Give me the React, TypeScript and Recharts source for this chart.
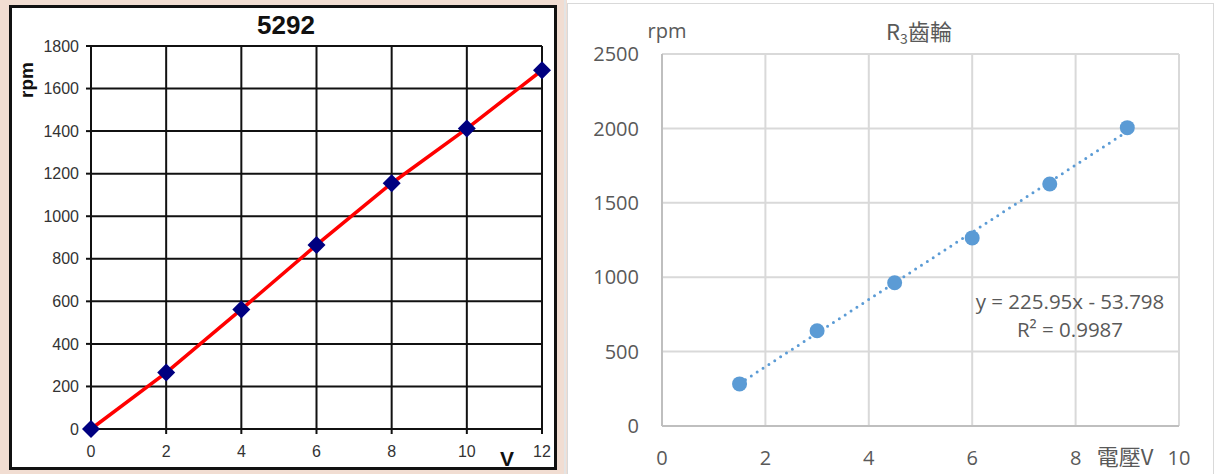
import { ComposedChart, Line, Scatter, XAxis, YAxis, CartesianGrid, ReferenceLine } from "recharts";

// left chart: motor 5292
const voltsA = [0, 2, 4, 6, 8, 10, 12];
const rpmA = [0, 265, 562, 865, 1155, 1412, 1686];
const xTicksA = [0, 2, 4, 6, 8, 10, 12];
const yTicksA = [0, 200, 400, 600, 800, 1000, 1200, 1400, 1600, 1800];

// right chart: R3 gear
const voltsB = [1.5, 3, 4.5, 6, 7.5, 9];
const rpmB = [283, 640, 963, 1264, 1626, 2005];
const xTicksB = [0, 2, 4, 6, 8, 10];
const yTicksB = [0, 500, 1000, 1500, 2000, 2500];
const trendSlope = 225.95;
const trendIntercept = -53.798;

const dataA = voltsA.map((v, i) => ({ v, rpm: rpmA[i] }));
const dataB = voltsB.map((v, i) => ({ v, rpm: rpmB[i] }));

const trendStart = voltsB[0];
const trendEnd = voltsB[voltsB.length - 1];

const Diamond = (props: any) => {
    const { cx, cy } = props;
    if (cx == null || cy == null) return null;
    const r = 9;
    return <path d={`M${cx},${cy - r}L${cx + r},${cy}L${cx},${cy + r}L${cx - r},${cy}Z`} fill="#000080" />;
};

const Dot = (props: any) => {
    const { cx, cy } = props;
    if (cx == null || cy == null) return null;
    return <circle cx={cx} cy={cy} r={7.5} fill="#5b9bd5" />;
};

const armFont = "Arial, 'Liberation Sans', sans-serif";
const xlFont = "'Open Sans', 'Noto Sans', sans-serif";
const gray = "#595959";

const LeftChart = () => (
    <div style={{ position: "absolute", left: 0, top: 0, width: 567, height: 474, background: "#f1ddd2" }}>
        <div style={{ position: "absolute", left: 9, top: 5, width: 542, height: 459, border: "3px solid #111", background: "#fff" }} />
        <div style={{ position: "absolute", left: 564, top: 0, width: 2, height: 474, background: "#e4e4e4" }} />
        <ComposedChart
            width={567}
            height={474}
            data={dataA}
            margin={{ top: 46, right: 25, bottom: 15, left: 11 }}
            style={{ position: "absolute", left: 0, top: 0 }}
        >
            <CartesianGrid stroke="#111" strokeWidth={2} horizontalValues={yTicksA} verticalValues={xTicksA} />
            <XAxis
                type="number"
                dataKey="v"
                domain={[0, 12]}
                ticks={xTicksA}
                height={30}
                tickSize={5}
                tickMargin={12}
                stroke="#111"
                strokeWidth={2}
                tick={{ fill: "#333", fontSize: 16, fontFamily: armFont }}
            />
            <YAxis
                type="number"
                domain={[0, 1800]}
                ticks={yTicksA}
                width={80}
                tickSize={5}
                tickMargin={7}
                stroke="#111"
                strokeWidth={2}
                tick={{ fill: "#333", fontSize: 16, fontFamily: armFont }}
            />
            <Line
                dataKey="rpm"
                type="linear"
                stroke="#ff0000"
                strokeWidth={3.5}
                dot={<Diamond />}
                activeDot={false}
                isAnimationActive={false}
            />
        </ComposedChart>
        <div style={{ position: "absolute", left: 286, top: 25, transform: "translate(-50%, -50%)", fontFamily: armFont, fontWeight: 700, fontSize: 26, color: "#111" }}>
            5292
        </div>
        <div style={{ position: "absolute", left: 27, top: 80, transform: "translate(-50%, -50%) rotate(-90deg)", fontFamily: armFont, fontWeight: 700, fontSize: 19, color: "#111" }}>
            rpm
        </div>
        <div style={{ position: "absolute", left: 507, top: 459, transform: "translate(-50%, -50%)", fontFamily: armFont, fontWeight: 700, fontSize: 21, color: "#111" }}>
            V
        </div>
    </div>
);

const RightChart = () => (
    <div style={{ position: "absolute", left: 567, top: 0, width: 649, height: 474, background: "#fff" }}>
        <div style={{ position: "absolute", left: 0, top: 3, width: 645, height: 480, border: "1.5px solid #d9d9d9" }} />
        <ComposedChart
            width={646}
            height={474}
            data={dataB}
            margin={{ top: 54, right: 34, bottom: 18, left: 15 }}
            style={{ position: "absolute", left: 0, top: 0 }}
        >
            <CartesianGrid stroke="#d9d9d9" strokeWidth={2} horizontalValues={yTicksB} verticalValues={xTicksB} />
            <XAxis
                type="number"
                dataKey="v"
                domain={[0, 10]}
                ticks={xTicksB}
                height={30}
                tickLine={false}
                tickSize={6}
                tickMargin={19}
                stroke="#bfbfbf"
                strokeWidth={2}
                tick={{ fill: gray, fontSize: 20, fontFamily: xlFont }}
            />
            <YAxis
                type="number"
                domain={[0, 2500]}
                ticks={yTicksB}
                width={80}
                tickLine={false}
                tickSize={6}
                tickMargin={17}
                stroke="#bfbfbf"
                strokeWidth={2}
                tick={{ fill: gray, fontSize: 20, fontFamily: xlFont }}
            />
            <ReferenceLine
                segment={[
                    { x: trendStart, y: trendSlope * trendStart + trendIntercept },
                    { x: trendEnd, y: trendSlope * trendEnd + trendIntercept },
                ]}
                stroke="#5b9bd5"
                strokeWidth={3}
                strokeDasharray="0 7"
                strokeLinecap="round"
                ifOverflow="visible"
            />
            <Scatter dataKey="rpm" fill="#5b9bd5" shape={<Dot />} isAnimationActive={false} />
        </ComposedChart>
        <div style={{ position: "absolute", left: 100, top: 30, transform: "translate(-50%, -50%)", fontFamily: xlFont, fontSize: 20, color: gray }}>
            rpm
        </div>
        <div style={{ position: "absolute", left: 352, top: 31, transform: "translate(-50%, -50%)", fontFamily: "'Noto Sans CJK TC', sans-serif", fontSize: 22, color: gray, whiteSpace: "nowrap" }}>
            R<sub style={{ fontSize: 14, verticalAlign: "-4px" }}>3</sub>齒輪
        </div>
        <div style={{ position: "absolute", left: 558, top: 455, transform: "translate(-50%, -50%)", fontFamily: "'Noto Sans CJK TC', sans-serif", fontSize: 22, color: gray, whiteSpace: "nowrap" }}>
            電壓V
        </div>
        <div style={{ position: "absolute", left: 503, top: 315, transform: "translate(-50%, -50%)", fontFamily: xlFont, fontSize: 20.5, color: gray, textAlign: "center", lineHeight: "28px", whiteSpace: "nowrap" }}>
            <div>y = 225.95x - 53.798</div>
            <div>R² = 0.9987</div>
        </div>
    </div>
);

export default function App() {
    return (
        <div style={{ position: "absolute", left: 0, top: 0, width: 1216, height: 474, overflow: "hidden", background: "#fff" }}>
            <LeftChart />
            <RightChart />
        </div>
    );
}
